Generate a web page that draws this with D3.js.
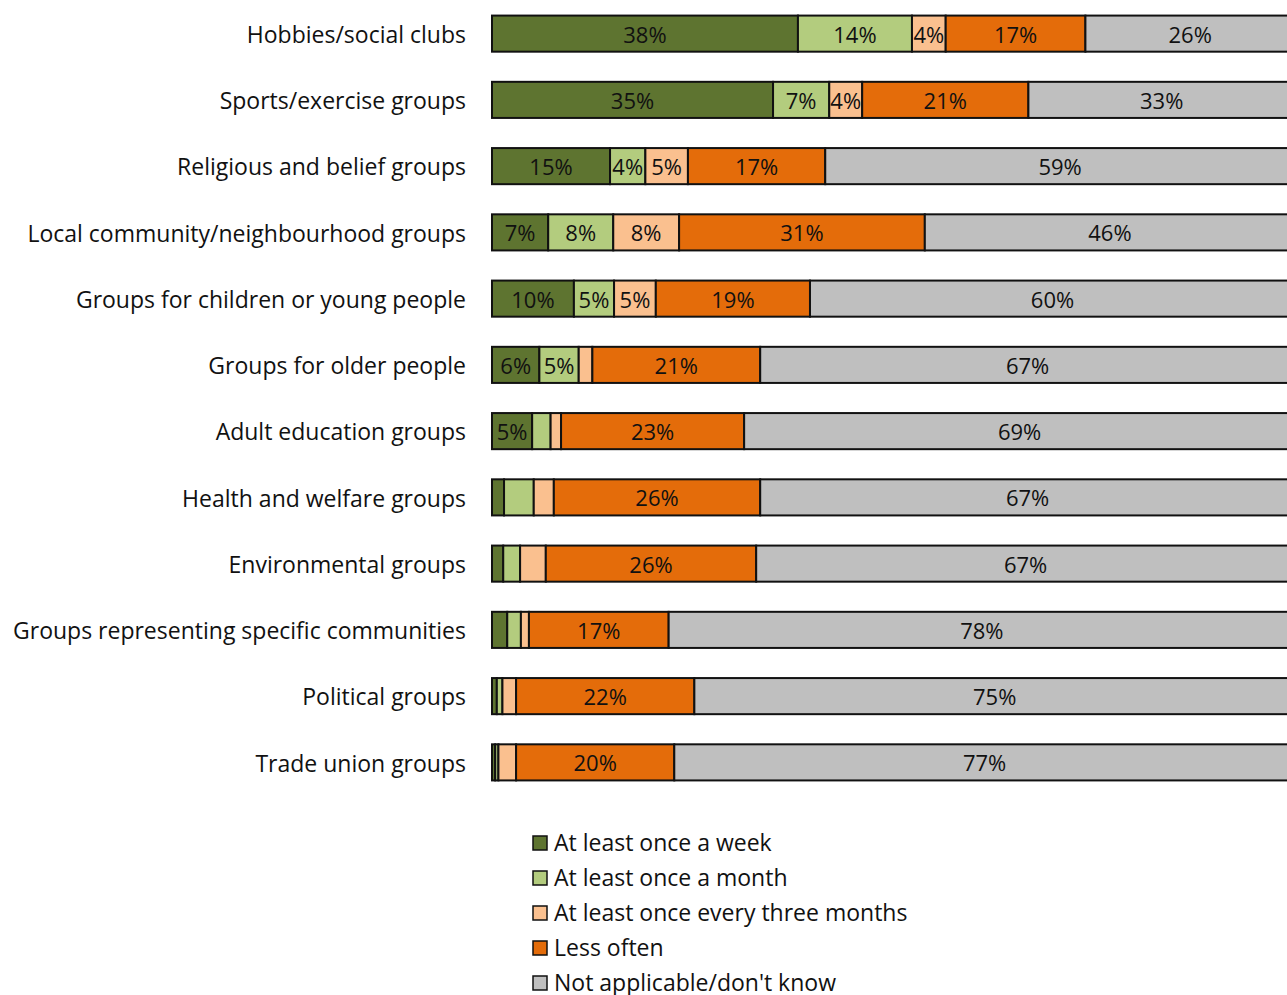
<!DOCTYPE html>
<html>
<head>
<meta charset="utf-8">
<script src="https://cdn.jsdelivr.net/npm/d3@7"></script>
<style>
  body { margin: 0; background: #fff; }
  svg { display: block; font-family: "Open Sans", sans-serif; }
</style>
</head>
<body>
<svg></svg>
<script>
const categories = [
  "Hobbies/social clubs",
  "Sports/exercise groups",
  "Religious and belief groups",
  "Local community/neighbourhood groups",
  "Groups for children or young people",
  "Groups for older people",
  "Adult education groups",
  "Health and welfare groups",
  "Environmental groups",
  "Groups representing specific communities",
  "Political groups",
  "Trade union groups"
];

// percentages per category, same order as categories
const weekly        = [38.1, 35.0, 14.7,  7.0, 10.2,  5.9,  5.0,  1.5,  1.4,  1.9,  0.6,  0.4];
const monthly       = [14.2,  7.0,  4.4,  8.1,  5.0,  4.9,  2.3,  3.7,  2.1,  1.7,  0.7,  0.4];
const threeMonthly  = [ 4.2,  4.1,  5.3,  8.2,  5.2,  1.7,  1.3,  2.5,  3.2,  1.0,  1.7,  2.2];
const lessOften     = [17.4, 20.7, 17.1, 30.6, 19.2, 20.9, 22.8, 25.7, 26.2, 17.4, 22.2, 19.7];
const notApplicable = [26.1, 33.2, 58.5, 46.1, 60.4, 66.6, 68.6, 66.6, 67.1, 78.0, 74.8, 77.3];

const seriesNames = [
  "At least once a week",
  "At least once a month",
  "At least once every three months",
  "Less often",
  "Not applicable/don't know"
];
const seriesColors = ["#5E7430", "#B3CC7E", "#FAC08F", "#E46C0A", "#BFBFBF"];

const keys = ["weekly", "monthly", "threeMonthly", "lessOften", "notApplicable"];
const rows = categories.map((c, i) => ({
  name: c,
  weekly: weekly[i],
  monthly: monthly[i],
  threeMonthly: threeMonthly[i],
  lessOften: lessOften[i],
  notApplicable: notApplicable[i]
}));

const W = 1287, H = 995;
const fontSize = 23;
const svg = d3.select("svg").attr("width", W).attr("height", H);

const x = d3.scaleLinear().domain([0, 100]).range([492, 1295]);
const y = d3.scaleBand()
  .domain(categories)
  .range([1, 795])
  .paddingInner(0.455)
  .paddingOuter(0.22);

const color = d3.scaleOrdinal().domain(keys).range(seriesColors);

const stacked = d3.stack().keys(keys)(rows);

const layers = svg.append("g")
  .selectAll("g")
  .data(stacked)
  .join("g")
  .attr("fill", d => color(d.key));

layers.selectAll("rect")
  .data(d => d)
  .join("rect")
  .attr("x", d => x(d[0]))
  .attr("y", d => y(d.data.name))
  .attr("width", d => x(d[1]) - x(d[0]))
  .attr("height", y.bandwidth())
  .attr("stroke", "#111")
  .attr("stroke-width", 2);

// value labels (small segments stay unlabelled)
layers.selectAll("text")
  .data(d => d.filter(s => s[1] - s[0] >= 3.9))
  .join("text")
  .attr("x", d => (x(d[0]) + x(d[1])) / 2)
  .attr("y", d => y(d.data.name) + y.bandwidth() / 2 + 1)
  .attr("dy", "0.36em")
  .attr("text-anchor", "middle")
  .attr("font-size", 22)
  .attr("fill", "#111")
  .text(d => Math.round(d[1] - d[0]) + "%");

// category labels
svg.append("g")
  .selectAll("text")
  .data(categories)
  .join("text")
  .attr("x", 466)
  .attr("y", d => y(d) + y.bandwidth() / 2 + 1)
  .attr("dy", "0.36em")
  .attr("text-anchor", "end")
  .attr("font-size", fontSize)
  .attr("fill", "#111")
  .text(d => d);

// legend
const legend = svg.append("g")
  .selectAll("g")
  .data(seriesNames)
  .join("g")
  .attr("transform", (d, i) => `translate(533, ${843 + i * 35})`);

legend.append("rect")
  .attr("x", 0)
  .attr("y", -7)
  .attr("width", 14)
  .attr("height", 14)
  .attr("fill", (d, i) => seriesColors[i])
  .attr("stroke", "#111")
  .attr("stroke-width", 1.5);

legend.append("text")
  .attr("x", 21)
  .attr("y", 0)
  .attr("dy", "0.36em")
  .attr("font-size", fontSize)
  .attr("fill", "#111")
  .text(d => d);
</script>
</body>
</html>
